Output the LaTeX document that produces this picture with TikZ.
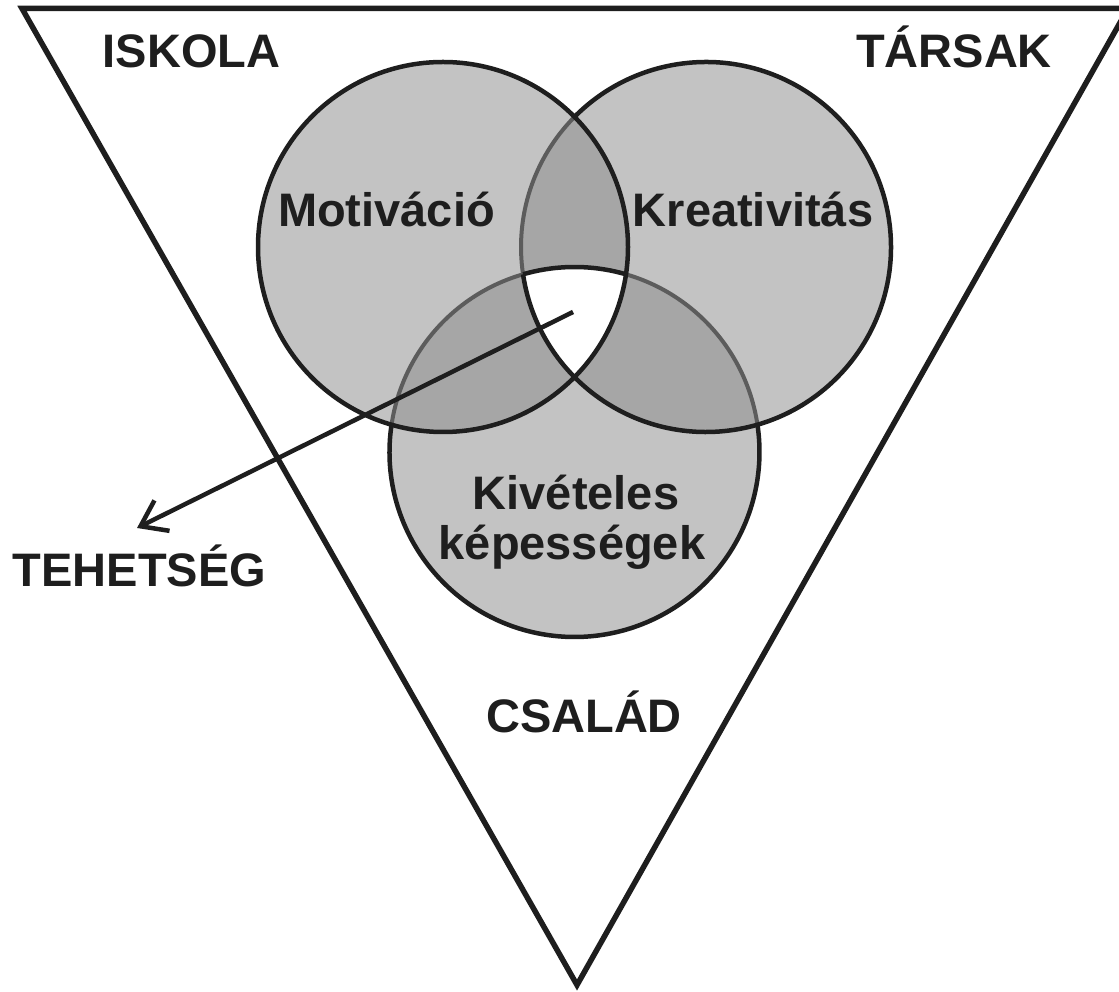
\documentclass[tikz,border=0pt]{standalone}
\usepackage{fontspec}
\setmainfont{Liberation Sans}
\usetikzlibrary{arrows.meta}
\definecolor{lightg}{HTML}{C3C3C3}
\definecolor{darkg}{HTML}{A6A6A6}
\definecolor{edgeg}{HTML}{5C5C5C}
\definecolor{ink}{HTML}{1E1E1E}
\tikzset{
  lab/.style={font=\bfseries\fontsize{47}{50}\selectfont, text=ink, anchor=base, inner sep=0pt},
  blackedge/.style={draw=ink, line width=4.5pt},
  grayedge/.style={draw=edgeg, line width=4pt},
}
\begin{document}
\begin{tikzpicture}[x=1pt,y=1pt]
\useasboundingbox (0,0) rectangle (1119,991);
\coordinate (C1) at (443,744);
\coordinate (C2) at (706,744);
\coordinate (C3) at (574.5,539);
% triangle
\coordinate (TL) at (22,982.5);
\coordinate (TR) at (1128,982.5);
\coordinate (BV) at (577,6);
\draw[ink, line width=5.5pt, line join=miter] (TL) -- (TR) -- (BV) -- cycle;
% fills
\fill[lightg] (C1) circle (185pt);
\fill[lightg] (C2) circle (185pt);
\fill[lightg] (C3) circle (185pt);
\begin{scope}
  \clip (C1) circle (185pt);
  \fill[darkg] (C2) circle (185pt);
  \fill[darkg] (C3) circle (185pt);
\end{scope}
\begin{scope}
  \clip (C2) circle (185pt);
  \fill[darkg] (C3) circle (185pt);
\end{scope}
\begin{scope}
  \clip (C1) circle (185pt);
  \clip (C2) circle (185pt);
  \fill[white] (C3) circle (185pt);
\end{scope}
% gray edges
\draw[grayedge] ([shift={(135.31:185pt)}]C2) arc[start angle=135.31, end angle=188.49, radius=185pt];
\draw[grayedge] ([shift={(106.16:185pt)}]C3) arc[start angle=106.16, end angle=171.51, radius=185pt];
\draw[grayedge] ([shift={(8.49:185pt)}]C3) arc[start angle=8.49, end angle=73.84, radius=185pt];
% black edges
\draw[blackedge] ([shift={(188.49:185pt)}]C2) arc[start angle=188.49, end angle=495.31, radius=185pt];
\draw[blackedge] ([shift={(171.51:185pt)}]C3) arc[start angle=171.51, end angle=368.49, radius=185pt];
\draw[blackedge] ([shift={(73.84:185pt)}]C3) arc[start angle=73.84, end angle=106.16, radius=185pt];
\draw[blackedge] (C1) circle (185pt);
% labels
\node[lab] (iskola) at (191.5,923) {ISKOLA};
\node[lab] (tarsak) at (954,923) {TÁRSAK};
\node[lab] (csalad) at (584,258) {CSALÁD};
\node[lab] (tehetseg) at (139.5,404) {TEHETSÉG};
\node[lab] (motiv) at (386.5,764) {Motiváció};
\node[lab] (kreat) at (753,764) {Kreativitás};
\node[lab] (kiv1) at (576,481) {Kivételes};
\node[lab] (kiv2) at (572,431) {képességek};
% arrow
\coordinate (core) at (573,679);
\coordinate (tip) at (137,463);
\draw[ink, line width=4.5pt, -{Straight Barb[length=24pt,width=34pt]}] (core) -- (tip);
\end{tikzpicture}
\end{document}
